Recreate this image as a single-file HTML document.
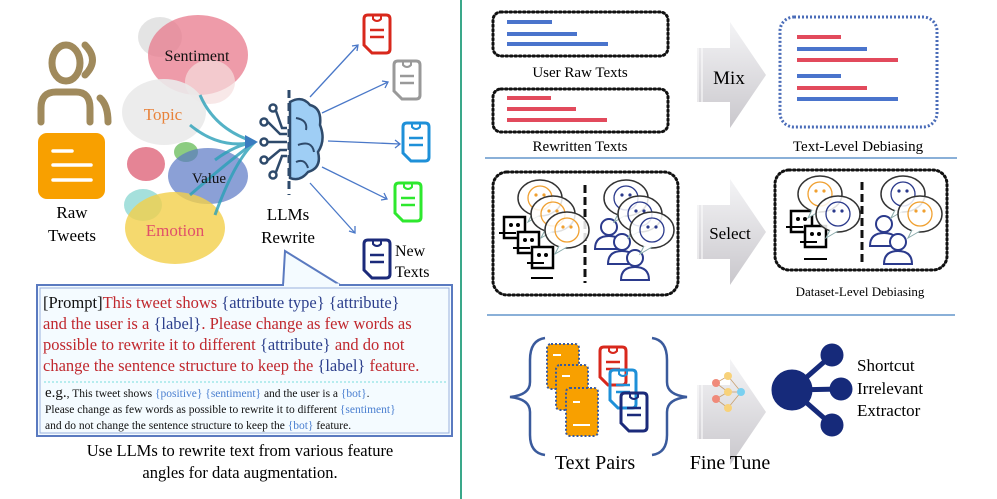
<!DOCTYPE html>
<html><head><meta charset="utf-8"><style>
html,body{margin:0;padding:0;background:#fff;width:997px;height:499px;overflow:hidden}
svg{display:block}
text{font-family:"Liberation Serif",serif}
</style></head><body>
<svg width="997" height="499" viewBox="0 0 997 499" xmlns="http://www.w3.org/2000/svg">
<defs>
<linearGradient id="ag" x1="0" y1="0" x2="0" y2="1"><stop offset="0" stop-color="#f4f4f6"/><stop offset="1" stop-color="#c9c7cc"/></linearGradient>
<g id="doc"><path d="M0,4 Q0,0 4,0 L22,0 Q26,0 26,4 L26,34 Q26,38 22,38 L8,38 L0,30 Z" fill="none" stroke-width="3"/><path d="M9,0 L9,4 Q13,8 17,4 L17,0" fill="none" stroke-width="2"/><line x1="6" y1="15" x2="20" y2="15" stroke-width="2.5"/><line x1="6" y1="22" x2="20" y2="22" stroke-width="2.5"/></g>
<g id="bot"><rect x="0" y="0" width="21" height="21" fill="#fff" stroke="#000" stroke-width="2.5"/><circle cx="7" cy="8" r="2"/><circle cx="14" cy="8" r="2"/><line x1="-5" y1="16" x2="12" y2="16" stroke="#000" stroke-width="2"/></g>
<g id="usr" fill="#fff" stroke="#2b3a8c" stroke-width="2"><circle cx="0" cy="-9" r="8"/><path d="M-14,13 Q-14,0 0,0 Q14,0 14,13 Z"/></g>
<g id="bub"><ellipse cx="0" cy="0" rx="22" ry="18" fill="#fff" fill-opacity="0.85" stroke="#333" stroke-width="1.5"/><path d="M-8,16 L-12,24 L0,17" fill="#fff" stroke="#8aa" stroke-width="1"/><circle cx="0" cy="0" r="12" fill="none" stroke-width="1.3"/><circle cx="-4" cy="-3" r="1.1" /><circle cx="4" cy="-3" r="1.1"/></g>
</defs>

<line x1="461" y1="0" x2="461" y2="499" stroke="#3aa88a" stroke-width="2"/>

<g fill="none" stroke="#a08a5c" stroke-width="7" stroke-linecap="round">
<ellipse cx="66" cy="63" rx="14" ry="18"/>
<path d="M85,45 Q100,60 85,75"/>
<path d="M41,122 L41,108 Q41,92 56,92 L76,92 Q90,92 90,108 L90,122"/>
<path d="M100,98 Q108,105 108,122"/>
</g>
<rect x="38" y="133" width="67" height="66" rx="9" fill="#f8a000"/>
<g stroke="#fff" stroke-width="3.5" stroke-linecap="round"><line x1="53" y1="151" x2="72" y2="151"/><line x1="53" y1="165" x2="91" y2="165"/><line x1="53" y1="180" x2="91" y2="180"/></g>
<text x="72" y="218" font-size="17" text-anchor="middle">Raw</text>
<text x="72" y="241" font-size="17" text-anchor="middle">Tweets</text>

<ellipse cx="160" cy="37" rx="22" ry="20" fill="#ddd" opacity="0.8"/>
<ellipse cx="198" cy="55" rx="50" ry="40" fill="#e8798c" opacity="0.75"/>
<ellipse cx="210" cy="82" rx="25" ry="22" fill="#f5dede" opacity="0.7"/>
<ellipse cx="164" cy="112" rx="42" ry="33" fill="#eaeaea" opacity="0.9"/>
<ellipse cx="146" cy="164" rx="19" ry="17" fill="#e06f82" opacity="0.85"/>
<ellipse cx="186" cy="152" rx="12" ry="10" fill="#6fbf62" opacity="0.8"/>
<ellipse cx="208" cy="176" rx="40" ry="28" fill="#5a78c4" opacity="0.7"/>
<ellipse cx="143" cy="205" rx="19" ry="16" fill="#7fd3cd" opacity="0.7"/>
<ellipse cx="175" cy="228" rx="50" ry="36" fill="#f2cf4a" opacity="0.8"/>
<g fill="none" stroke="#2aa0b8" stroke-width="3" opacity="0.8">
<path d="M200,95 Q215,130 255,142"/><path d="M190,125 Q220,150 255,142"/><path d="M215,160 Q235,145 255,142"/><path d="M190,195 Q230,160 255,142"/><path d="M215,215 Q235,160 255,142"/>
</g>
<path d="M245,135 L258,142 L245,149 Z" fill="#3a7cc0"/>
<text x="197" y="61" font-size="16" text-anchor="middle" fill="#111">Sentiment</text>
<text x="163" y="120" font-size="17" text-anchor="middle" fill="#e8823a">Topic</text>
<text x="209" y="183" font-size="15" text-anchor="middle" fill="#111">Value</text>
<text x="175" y="236" font-size="17" text-anchor="middle" fill="#e0506a">Emotion</text>

<line x1="289" y1="90" x2="289" y2="195" stroke="#2e4a6b" stroke-width="3" stroke-dasharray="8,5"/>
<path d="M290,102 Q302,95 310,105 Q322,108 320,125 Q326,140 318,152 Q322,168 308,172 Q300,182 290,178 Z" fill="#9fcef5" stroke="#2e4a6b" stroke-width="2.5"/>
<g fill="none" stroke="#2e4a6b" stroke-width="2"><path d="M296,118 Q308,120 306,130"/><path d="M298,145 Q312,140 314,152"/><path d="M296,162 Q305,158 308,168"/></g>
<g fill="none" stroke="#2e4a6b" stroke-width="2.5">
<circle cx="273" cy="108" r="3.5"/><circle cx="264" cy="122" r="3.5"/><circle cx="264" cy="142" r="3.5"/><circle cx="264" cy="160" r="3.5"/><circle cx="273" cy="175" r="3.5"/>
<path d="M276,111 L282,128 L287,128"/><path d="M268,122 L280,134 L287,134"/><path d="M268,142 L287,142"/><path d="M268,160 L280,150 L287,150"/><path d="M276,172 L282,156 L287,156"/>
</g>
<text x="288" y="220" font-size="17" text-anchor="middle">LLMs</text>
<text x="288" y="243" font-size="17" text-anchor="middle">Rewrite</text>

<g stroke="#4a78c8" stroke-width="1.3" fill="none">
<path d="M310,97 L358,45"/><path d="M352,46 L358,45 L357,51"/>
<path d="M322,113 L388,82"/><path d="M382,81 L388,82 L385,88"/>
<path d="M328,141 L400,144"/><path d="M395,140 L400,144 L395,148"/>
<path d="M322,167 L387,199"/><path d="M381,200 L387,199 L384,193"/>
<path d="M310,183 L355,233"/><path d="M349,231 L355,233 L355,226"/>
</g>
<use href="#doc" x="364" y="15" stroke="#d8281c"/>
<use href="#doc" x="394" y="61" stroke="#999"/>
<use href="#doc" x="403" y="123" stroke="#1e90d8"/>
<use href="#doc" x="395" y="183" stroke="#2ee82e"/>
<use href="#doc" x="364" y="240" stroke="#1b2a7a"/>
<text x="395" y="256" font-size="16">New</text>
<text x="395" y="277" font-size="16">Texts</text>

<path d="M283,286 L285,251 L340,285" fill="#f4fbff" stroke="#5a7ac0" stroke-width="2"/>
<rect x="37" y="285" width="415" height="151" fill="#f4fbff" stroke="#5a7ac0" stroke-width="2"/>
<rect x="40" y="288" width="409" height="145" fill="none" stroke="#9ab0dd" stroke-width="1"/>
<line x1="284" y1="285" x2="339" y2="285" stroke="#f4fbff" stroke-width="3"/>
<g font-size="16.5" fill="#c0282e">
<text x="43" y="308"><tspan fill="#111">[Prompt]</tspan>This tweet shows <tspan fill="#2c3f8c">{attribute type}</tspan> <tspan fill="#2c3f8c">{attribute}</tspan></text>
<text x="43" y="329">and the user is a <tspan fill="#2c3f8c">{label}</tspan>. Please change as few words as</text>
<text x="43" y="350">possible to rewrite it to different <tspan fill="#2c3f8c">{attribute}</tspan> and do not</text>
<text x="43" y="371">change the sentence structure to keep the <tspan fill="#2c3f8c">{label}</tspan> feature.</text>
</g>
<line x1="44" y1="382" x2="446" y2="382" stroke="#7dd" stroke-width="1" stroke-dasharray="2,2"/>
<g font-size="11.5" fill="#111">
<text x="45" y="397"><tspan font-size="15">e.g.</tspan>, This tweet shows <tspan fill="#4a7fd0">{positive}</tspan> <tspan fill="#4a7fd0">{sentiment}</tspan> and the user is a <tspan fill="#4a7fd0">{bot}</tspan>.</text>
<text x="45" y="413">Please change as few words as possible to rewrite it to different <tspan fill="#4a7fd0">{sentiment}</tspan></text>
<text x="45" y="429">and do not change the sentence structure to keep the <tspan fill="#4a7fd0">{bot}</tspan> feature.</text>
</g>
<text x="240" y="456" font-size="16.5" text-anchor="middle">Use LLMs to rewrite text from various feature</text>
<text x="240" y="478" font-size="16.5" text-anchor="middle">angles for data augmentation.</text>

<g fill="none" stroke="#111" stroke-width="3" stroke-dasharray="1.5,3" stroke-linecap="round">
<rect x="493" y="12" width="175" height="44" rx="8"/>
<rect x="493" y="89" width="175" height="43" rx="8"/>
<rect x="493" y="172" width="185" height="123" rx="14"/>
<rect x="775" y="170" width="172" height="100" rx="14"/>
</g>
<g stroke-width="4"><g stroke="#4a74cc"><line x1="507" y1="22" x2="552" y2="22"/><line x1="507" y1="34" x2="577" y2="34"/><line x1="507" y1="44" x2="608" y2="44"/></g>
<g stroke="#e24a5c"><line x1="507" y1="98" x2="551" y2="98"/><line x1="507" y1="109" x2="576" y2="109"/><line x1="507" y1="120" x2="607" y2="120"/></g></g>
<text x="580" y="77" font-size="15" text-anchor="middle">User Raw Texts</text>
<text x="580" y="151" font-size="15" text-anchor="middle">Rewritten Texts</text>

<g id="arr"><path d="M697,48 L730,48 L730,22 L766,75 L730,128 L730,102 L697,102 Z" fill="url(#ag)"/><line x1="698" y1="48" x2="698" y2="102" stroke="#fff" stroke-width="1"/><line x1="702" y1="48" x2="702" y2="102" stroke="#fff" stroke-width="1"/></g>
<text x="729" y="84" font-size="19" text-anchor="middle">Mix</text>
<rect x="780" y="17" width="157" height="110" rx="14" fill="none" stroke="#4a6cb8" stroke-width="3" stroke-dasharray="2,2"/>
<g stroke-width="4"><line x1="797" y1="37" x2="841" y2="37" stroke="#e24a5c"/><line x1="797" y1="49" x2="867" y2="49" stroke="#4a74cc"/><line x1="797" y1="60" x2="898" y2="60" stroke="#e24a5c"/><line x1="797" y1="76" x2="841" y2="76" stroke="#4a74cc"/><line x1="797" y1="88" x2="867" y2="88" stroke="#e24a5c"/><line x1="797" y1="99" x2="898" y2="99" stroke="#4a74cc"/></g>
<text x="858" y="151" font-size="15" text-anchor="middle">Text-Level Debiasing</text>
<line x1="485" y1="158" x2="957" y2="158" stroke="#8ab0d8" stroke-width="2"/>

<line x1="585" y1="185" x2="585" y2="283" stroke="#111" stroke-width="3" stroke-dasharray="8,4"/>
<use href="#bot" x="504" y="217"/><use href="#bot" x="518" y="232"/><use href="#bot" x="532" y="247"/>
<line x1="531" y1="278" x2="553" y2="278" stroke="#000" stroke-width="2"/>
<use href="#bub" x="540" y="198" stroke="#f0a030" fill="#f0a030"/>
<use href="#bub" x="553" y="214" stroke="#f0a030" fill="#f0a030"/>
<use href="#bub" x="567" y="230" stroke="#f0a030" fill="#f0a030"/>
<use href="#usr" x="609" y="236"/><use href="#usr" x="622" y="251"/><use href="#usr" x="635" y="267"/>
<use href="#bub" x="626" y="198" stroke="#2b3a8c" fill="#2b3a8c"/>
<use href="#bub" x="640" y="214" stroke="#2b3a8c" fill="#2b3a8c"/>
<use href="#bub" x="652" y="230" stroke="#2b3a8c" fill="#2b3a8c"/>
<use href="#arr" y="157"/>
<text x="730" y="239" font-size="17" text-anchor="middle">Select</text>
<line x1="862" y1="182" x2="862" y2="262" stroke="#111" stroke-width="3" stroke-dasharray="8,4"/>
<use href="#bot" x="791" y="211"/><use href="#bot" x="805" y="226"/>
<line x1="804" y1="259" x2="827" y2="259" stroke="#000" stroke-width="2"/>
<use href="#bub" x="820" y="194" stroke="#f0a030" fill="#f0a030"/>
<use href="#bub" x="838" y="214" stroke="#2b3a8c" fill="#2b3a8c"/>
<use href="#usr" x="884" y="233"/><use href="#usr" x="898" y="251"/>
<use href="#bub" x="903" y="194" stroke="#2b3a8c" fill="#2b3a8c"/>
<use href="#bub" x="920" y="214" stroke="#f0a030" fill="#f0a030"/>
<text x="860" y="296" font-size="13" text-anchor="middle">Dataset-Level Debiasing</text>
<line x1="487" y1="315" x2="955" y2="315" stroke="#8ab0d8" stroke-width="2"/>

<g fill="none" stroke="#3a5a9c" stroke-width="2.5">
<path d="M545,338 Q530,340 530,360 L530,382 Q530,395 510,397 Q530,399 530,412 L530,435 Q530,453 545,455"/>
<path d="M652,338 Q667,340 667,360 L667,382 Q667,395 687,397 Q667,399 667,412 L667,435 Q667,453 652,455"/>
</g>
<g>
<rect x="547" y="344" width="32" height="45" fill="#f8a000" rx="4" stroke="#3a5a9c" stroke-width="2" stroke-dasharray="2,2"/>
<rect x="556" y="365" width="32" height="45" fill="#f8a000" rx="4" stroke="#3a5a9c" stroke-width="2" stroke-dasharray="2,2"/>
<rect x="566" y="388" width="32" height="48" fill="#f8a000" rx="4" stroke="#3a5a9c" stroke-width="2" stroke-dasharray="2,2"/>
<g stroke="#fff" stroke-width="2"><line x1="553" y1="355" x2="561" y2="355"/><line x1="562" y1="376" x2="570" y2="376"/><line x1="573" y1="402" x2="580" y2="402"/><line x1="573" y1="425" x2="590" y2="425"/></g>
</g>
<use href="#doc" x="600" y="347" stroke="#d8281c"/>
<use href="#doc" x="610" y="370" stroke="#1e90d8"/>
<use href="#doc" x="621" y="393" stroke="#1b2a7a"/>
<text x="595" y="469" font-size="20" text-anchor="middle">Text Pairs</text>
<use href="#arr" y="337"/>
<g stroke="#c8a070" stroke-width="0.8"><line x1="716" y1="383" x2="728" y2="376"/><line x1="716" y1="383" x2="728" y2="392"/><line x1="716" y1="399" x2="728" y2="392"/><line x1="716" y1="399" x2="728" y2="408"/><line x1="728" y1="376" x2="741" y2="392"/><line x1="728" y1="392" x2="741" y2="392"/><line x1="728" y1="408" x2="741" y2="392"/></g>
<circle cx="716" cy="383" r="4" fill="#f08a7a"/><circle cx="716" cy="399" r="4" fill="#f08a7a"/><circle cx="728" cy="376" r="4" fill="#f8d27a"/><circle cx="728" cy="392" r="4" fill="#f8d27a"/><circle cx="728" cy="408" r="4" fill="#f8d27a"/><circle cx="741" cy="392" r="4" fill="#7ad0f0"/>
<text x="730" y="469" font-size="20" text-anchor="middle">Fine Tune</text>
<g fill="#162a7a" stroke="#162a7a"><line x1="792" y1="390" x2="832" y2="355" stroke-width="5"/><line x1="792" y1="390" x2="841" y2="389" stroke-width="5"/><line x1="792" y1="390" x2="832" y2="425" stroke-width="5"/>
<circle cx="792" cy="390" r="20"/><circle cx="832" cy="355" r="11"/><circle cx="841" cy="389" r="11"/><circle cx="832" cy="425" r="11"/></g>
<text x="857" y="371" font-size="17">Shortcut</text>
<text x="857" y="394" font-size="17">Irrelevant</text>
<text x="857" y="416" font-size="17">Extractor</text>
</svg>
</body></html>
